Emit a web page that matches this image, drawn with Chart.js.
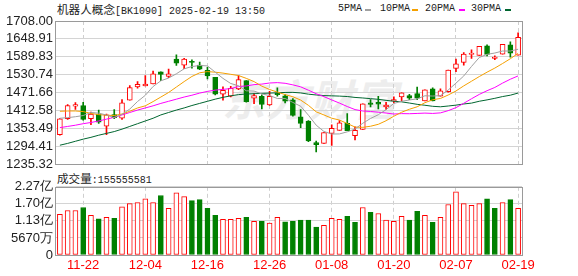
<!DOCTYPE html>
<html>
<head>
<meta charset="utf-8">
<script src="https://cdn.jsdelivr.net/npm/chart.js@4.4.1/dist/chart.umd.min.js"></script>
<style>
  body { margin:0; background:#fff; width:578px; height:276px; overflow:hidden; position:relative; }
  .txt { position:absolute; white-space:nowrap; color:#222; line-height:14px; }
  .mono { font-family:"Liberation Mono","DejaVu Sans Mono",monospace; font-size:10px; }
  .cjk { font-family:"Noto Sans CJK SC",sans-serif; font-size:11.6px; }
  .mk { position:absolute; height:2px; width:6px; top:9px; }
  #wm { position:absolute; left:222px; top:66px; font:bold 43px "Noto Sans CJK SC",sans-serif; color:#ededed; letter-spacing:1px; font-style:italic; }
  canvas { position:absolute; left:0; }
</style>
</head>
<body>
<div id="wm">东方财富</div>
<div class="txt" style="left:57px;top:2px"><span class="cjk">机器人概念</span><span class="mono">[BK1090] 2025-02-19 13:50</span></div>
<div class="txt mono" style="left:338px;top:2px">5PMA</div><div class="mk" style="left:365px;background:#a0a0a0"></div>
<div class="txt mono" style="left:380px;top:2px">10PMA</div><div class="mk" style="left:412px;background:#f5a000"></div>
<div class="txt mono" style="left:425px;top:2px">20PMA</div><div class="mk" style="left:459px;background:#ff00ff"></div>
<div class="txt mono" style="left:471px;top:2px">30PMA</div><div class="mk" style="left:505px;background:#006630"></div>
<div class="txt" style="left:57px;top:171px"><span class="cjk">成交量</span><span class="mono">:155555581</span></div>
<canvas id="kline" width="578" height="175" style="top:0"></canvas>
<canvas id="vol" width="578" height="100" style="top:176px"></canvas>
<script>
// trading days shown
var dates = ['11-19','11-20','11-21','11-22','11-25','11-26','11-27','11-28','11-29','12-02',
  '12-03','12-04','12-05','12-06','12-09','12-10','12-11','12-12','12-13','12-16',
  '12-17','12-18','12-19','12-20','12-23','12-24','12-25','12-26','12-27','12-30',
  '12-31','01-02','01-03','01-06','01-07','01-08','01-09','01-10','01-13','01-14',
  '01-15','01-16','01-17','01-20','01-21','01-22','01-23','01-24','01-27','02-05',
  '02-06','02-07','02-10','02-11','02-12','02-13','02-14','02-17','02-18','02-19'];
var tickDates = ['11-22','12-04','12-16','12-26','01-08','01-20','02-07','02-19'];

var open = [1332.7,1385.2,1426.8,1429.0,1385.2,1400.5,1361.1,1399.4,1387.4,1446.5,
  1490.2,1493.5,1500.1,1540.6,1525.3,1582.2,1562.5,1574.5,1562.5,1545.0,
  1522.0,1466.2,1459.6,1483.7,1511.0,1453.1,1459.6,1431.2,1470.0,1461.0,
  1448.0,1391.8,1377.6,1306.4,1304.2,1337.1,1346.9,1369.9,1329.4,1350.2,
  1437.7,1439.9,1424.6,1444.3,1457.4,1461.8,1468.4,1444.3,1483.7,1459.6,
  1474.9,1551.5,1571.2,1597.5,1594.2,1625.9,1584.4,1598.6,1629.2,1595.3];
var high = [1386.0,1432.0,1438.8,1439.9,1407.1,1413.7,1400.5,1415.8,1448.7,1494.6,
  1507.7,1527.5,1542.8,1540.6,1549.3,1596.4,1585.0,1580.0,1572.0,1554.8,
  1522.0,1490.3,1492.4,1527.5,1511.0,1468.4,1464.0,1476.0,1487.0,1465.0,
  1452.0,1415.8,1379.0,1311.9,1339.3,1365.5,1379.7,1402.7,1359.0,1434.4,
  1448.7,1459.6,1439.9,1457.4,1470.6,1466.2,1490.2,1480.4,1487.0,1483.7,
  1546.0,1582.2,1604.0,1612.8,1624.8,1629.2,1593.1,1631.4,1639.1,1668.6];
var low = [1331.0,1383.0,1415.8,1380.8,1365.5,1369.9,1332.7,1385.2,1383.0,1446.5,
  1485.9,1493.5,1500.1,1511.0,1521.0,1561.4,1550.4,1552.6,1547.2,1516.5,
  1464.0,1446.5,1457.4,1481.5,1439.9,1435.5,1418.0,1429.0,1460.0,1438.0,
  1394.0,1355.7,1310.0,1275.8,1304.2,1297.7,1346.9,1345.8,1315.2,1350.2,
  1424.6,1418.0,1415.8,1437.7,1443.2,1448.7,1448.7,1444.3,1444.3,1459.6,
  1472.7,1540.6,1562.5,1584.4,1594.2,1593.1,1580.0,1598.6,1588.7,1595.3];
var close = [1385.2,1429.0,1432.3,1383.0,1400.5,1374.3,1398.3,1388.5,1437.7,1488.1,
  1499.0,1500.1,1534.0,1531.8,1534.0,1569.0,1582.2,1571.2,1549.4,1527.0,
  1466.2,1479.3,1485.9,1514.3,1442.1,1461.8,1432.3,1459.6,1465.0,1443.0,
  1396.2,1369.9,1311.9,1299.9,1339.3,1353.5,1372.1,1345.8,1346.9,1434.4,
  1432.3,1433.4,1430.1,1448.7,1470.6,1453.1,1453.1,1480.4,1444.3,1477.1,
  1546.0,1566.8,1598.6,1601.9,1624.8,1597.5,1588.7,1631.4,1601.9,1654.4];

var ma5 = [1387,1389,1392,1396,1406.0,1403.8,1397.7,1388.9,1399.9,1417.4,
  1442.3,1462.7,1491.8,1510.6,1519.8,1533.8,1550.2,1557.6,1561.2,1559.8,
  1539.2,1518.6,1501.6,1494.5,1477.6,1476.7,1467.3,1462.0,1452.2,1452.3,
  1439.2,1426.7,1397.2,1364.2,1343.4,1334.9,1335.3,1342.1,1351.5,1370.5,
  1386.3,1398.6,1415.4,1435.8,1443.0,1447.2,1451.1,1461.2,1460.3,1461.6,
  1480.2,1502.9,1526.6,1558.1,1587.6,1597.9,1602.3,1608.9,1608.9,1614.8];
var ma10 = [1410,1411,1411,1409,1403,1399,1397,1396,1401,1410,
  1421,1428,1442,1457,1472,1490,1508,1525,1537,1541,
  1539,1536,1532,1528,1518.7,1507.9,1493.0,1481.8,1473.4,1465.0,
  1458.0,1447.0,1429.6,1408.2,1397.9,1387.1,1381.0,1369.7,1357.9,1357.0,
  1360.6,1367.0,1378.8,1393.7,1406.8,1416.7,1424.8,1438.3,1448.0,1452.3,
  1463.7,1477.0,1493.9,1509.2,1524.6,1539.1,1552.6,1567.7,1583.5,1601.2];
var ma20 = [1356,1360,1364,1369,1373,1378,1384,1390,1398,1406,
  1414,1421,1428,1436,1443,1450,1457,1463,1470,1475.7,
  1479.8,1482.3,1485.0,1491.5,1493.6,1498.0,1499.7,1503.3,1504.6,1502.4,
  1497.2,1490.7,1479.6,1468.0,1458.3,1447.5,1437.0,1425.7,1415.6,1411.0,
  1409.3,1407.0,1404.2,1400.9,1402.3,1401.9,1402.9,1404.0,1402.9,1404.7,
  1412.1,1422.0,1436.3,1451.4,1465.7,1477.9,1488.7,1503.0,1515.8,1526.8];
var ma30 = [1298,1304,1311,1318,1324,1331,1337,1343,1351,1360,
  1369,1378,1387,1398,1406,1414,1421,1429,1436,1443,
  1450,1456,1461,1465,1467,1468,1469,1470,1471,1472.1,
  1472.5,1470.5,1466.5,1463.8,1461.7,1461.0,1460.1,1458.7,1455.7,1453.9,
  1451.7,1449.5,1446.0,1443.2,1441.1,1437.2,1432.9,1429.9,1426.4,1424.8,
  1427.4,1430.3,1434.1,1437.0,1443.1,1447.6,1452.8,1458.6,1463.1,1470.2];

// volume in millions, and whether the volume bar is red (1) or green (0)
var volume = [135,148,148,158,132,120,125,122,160,171,
  174,187,174,198,155,207,194,181,184,155,
  132,119,119,122,125,112,112,106,125,110,
  112,116,116,93,99,122,119,129,109,158,
  142,138,116,112,129,116,145,132,109,125,
  168,210,171,165,171,187,155,174,184,155.56];
var volUp = [1,1,1,0,1,0,1,0,1,1, 1,1,1,0,1,1,1,0,0,0,
  0,1,1,1,0,1,0,1,1,0, 0,0,0,0,1,1,1,0,0,1,
  0,1,1,1,1,0,0,1,0,1, 1,1,1,1,1,0,0,1,0,1];

var priceTicks = [1235.32,1294.41,1353.49,1412.58,1471.66,1530.74,1589.83,1648.91,1708.00];
var volTicks = [0,56.7,113.4,170.1,226.8];
var volTickLabels = ['0','5670万','1.13亿','1.70亿','2.27亿'];

var RED = '#ff0000', GREEN = '#008000';
var GRID = '#d4d4d4';
var tickFont = {family:'"Liberation Sans", Arial, sans-serif', size:13};

// grey frame round the plot area
var framePlugin = {
  id: 'frame',
  afterDraw: function(chart) {
    var a = chart.chartArea, g = chart.ctx;
    g.save();
    g.strokeStyle = '#9a9a9a';
    g.lineWidth = 1;
    g.strokeRect(Math.round(a.left) - 0.5, Math.round(a.top) + 0.5,
      Math.round(a.right - a.left) + 1, Math.round(a.bottom - a.top));
    g.restore();
  }
};

function xGridColor(ctx) {
  return tickDates.indexOf(dates[ctx.index]) >= 0 ? '#cfcfcf' : 'rgba(0,0,0,0)';
}

var upDown = close.map(function(c, i) { return c >= open[i]; });

function maLine(label, data, color) {
  return {type:'line', label:label, data:data, borderColor:color, borderWidth:1,
    pointRadius:0, tension:0, order:1};
}

var kline = new Chart(document.getElementById('kline').getContext('2d'), {
  type: 'bar',
  data: {
    labels: dates,
    datasets: [
      maLine('5PMA', ma5, '#a0a0a0'),
      maLine('10PMA', ma10, '#f5a000'),
      maLine('20PMA', ma20, '#ff00ff'),
      maLine('30PMA', ma30, '#006630'),
      {
        label: 'body',
        data: open.map(function(o, i) { return [o, close[i]]; }),
        backgroundColor: upDown.map(function(u) { return u ? '#ffffff' : GREEN; }),
        borderColor: upDown.map(function(u) { return u ? RED : GREEN; }),
        borderWidth: 1, borderSkipped: false, barThickness: 5, grouped: false, order: 5
      },
      {
        label: 'wick',
        data: low.map(function(l, i) { return [l, high[i]]; }),
        backgroundColor: upDown.map(function(u) { return u ? RED : GREEN; }),
        borderWidth: 0, barThickness: 1, grouped: false, order: 6
      }
    ]
  },
  options: {
    responsive: false, animation: false, devicePixelRatio: 1,
    layout: {padding: {top:21, right:56, bottom:10, left:0}},
    plugins: {legend:{display:false}, tooltip:{enabled:false}},
    scales: {
      x: {
        ticks: {display:false},
        grid: {offset:false, drawTicks:false, color:xGridColor},
        border: {display:false, dash:[4,3]},
        afterFit: function(s) { s.height = 0; }
      },
      y: {
        min: 1235.32, max: 1708.00,
        afterBuildTicks: function(s) { s.ticks = priceTicks.map(function(v) { return {value:v}; }); },
        afterFit: function(s) { s.width = 56; },
        ticks: {color:'#222', font:tickFont, padding:3, autoSkip:false,
          callback: function(v) { return Number(v).toFixed(2); }},
        grid: {color:GRID, drawTicks:false},
        border: {display:false}
      }
    }
  },
  plugins: [framePlugin]
});

var vol = new Chart(document.getElementById('vol').getContext('2d'), {
  type: 'bar',
  data: {
    labels: dates,
    datasets: [{
      label: '成交量',
      data: volume,
      backgroundColor: volUp.map(function(u) { return u ? '#ffffff' : GREEN; }),
      borderColor: volUp.map(function(u) { return u ? RED : GREEN; }),
      borderWidth: 1, borderSkipped: false, barThickness: 5
    }]
  },
  options: {
    responsive: false, animation: false, devicePixelRatio: 1,
    layout: {padding: {top:10, right:56, bottom:0, left:0}},
    plugins: {legend:{display:false}, tooltip:{enabled:false}},
    scales: {
      x: {
        ticks: {color:RED, font:tickFont, padding:3, autoSkip:false, maxRotation:0,
          callback: function(v, i) { return tickDates.indexOf(dates[i]) >= 0 ? dates[i] : ''; }},
        grid: {offset:false, drawTicks:false, color:xGridColor},
        border: {display:false, dash:[4,3]},
        afterFit: function(s) { s.height = 21; }
      },
      y: {
        min: 0, max: 226.8,
        afterBuildTicks: function(s) { s.ticks = volTicks.map(function(v) { return {value:v}; }); },
        afterFit: function(s) { s.width = 56; },
        ticks: {color:'#222', font:tickFont, padding:3, autoSkip:false,
          callback: function(v) { return volTickLabels[volTicks.indexOf(v)]; }},
        grid: {color:GRID, drawTicks:false},
        border: {display:false}
      }
    }
  },
  plugins: [framePlugin]
});
</script>
</body>
</html>
